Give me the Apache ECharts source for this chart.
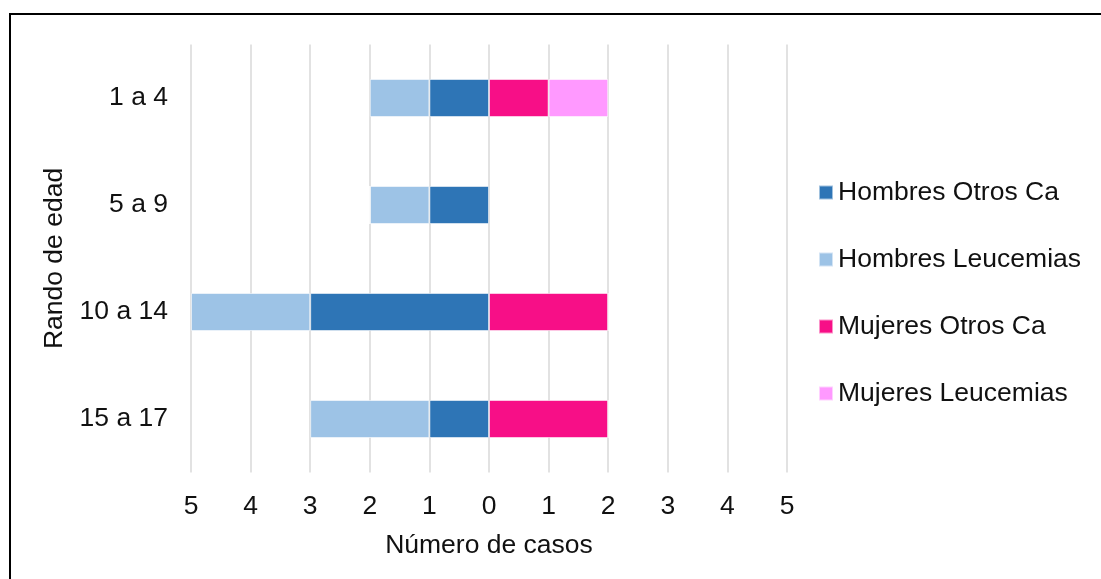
<!DOCTYPE html>
<html>
<head>
<meta charset="utf-8">
<script src="https://cdn.jsdelivr.net/npm/echarts@6/dist/echarts.min.js"></script>
<style>
  html, body { margin: 0; padding: 0; background: #fff; }
  #chart { width: 1101px; height: 579px; position: relative; }
  #frame { position: absolute; left: 9px; top: 13px; width: 1300px; height: 800px; border: 2px solid #000; pointer-events: none; z-index: 5; }
  #wrap { position: relative; width: 1101px; height: 579px; overflow: hidden; }
</style>
</head>
<body>
<div id="wrap">
  <div id="chart"></div>
  <div id="frame"></div>
</div>
<script>
// Age groups (top to bottom)
const categories = ['1 a 4', '5 a 9', '10 a 14', '15 a 17'];
// Cases per group; men are plotted to the left of zero
const hombresOtrosCa = [1, 1, 3, 1];
const hombresLeucemias = [1, 1, 2, 2];
const mujeresOtrosCa = [1, 0, 2, 2];
const mujeresLeucemias = [1, 0, 0, 0];
// Tick values along the count axis
const ticks = [-5, -4, -3, -2, -1, 0, 1, 2, 3, 4, 5];

const font = '"Liberation Sans", Arial, sans-serif';
const txt = '#111';
const fs = 26.5;

const neg = arr => arr.map(v => -v);
const barStyle = color => ({ color: color, borderColor: 'rgba(255,255,255,0.55)', borderWidth: 1 });

const chart = echarts.init(document.getElementById('chart'));
chart.setOption({
  animation: false,
  backgroundColor: '#fff',
  textStyle: { fontFamily: font },
  grid: { left: 191, right: 314, top: 44.5, bottom: 106.5, containLabel: false },
  legend: {
    orient: 'vertical',
    left: 818,
    top: 179,
    padding: 0,
    itemWidth: 14,
    itemHeight: 14,
    itemGap: 40,
    itemTextGap: 7,
    icon: 'rect',
    textStyle: { fontFamily: font, fontSize: fs, color: txt, lineHeight: 26 },
    data: ['Hombres Otros Ca', 'Hombres Leucemias', 'Mujeres Otros Ca', 'Mujeres Leucemias']
  },
  xAxis: {
    type: 'value',
    min: ticks[0],
    max: ticks[ticks.length - 1],
    interval: 1,
    name: 'Número de casos',
    nameLocation: 'middle',
    nameGap: 60,
    nameTextStyle: { fontFamily: font, fontSize: fs, color: txt },
    axisLine: { show: false },
    axisTick: { show: false },
    axisLabel: {
      margin: 21,
      fontFamily: font,
      fontSize: fs,
      color: txt,
      formatter: v => String(Math.abs(v))
    },
    splitLine: { show: true, lineStyle: { color: '#d9d9d9', width: 1.5 } }
  },
  yAxis: {
    type: 'category',
    inverse: true,
    data: categories,
    name: 'Rando de edad',
    nameLocation: 'middle',
    nameRotate: 90,
    nameGap: 116,
    nameTextStyle: { fontFamily: font, fontSize: fs, color: txt },
    axisLine: { show: false },
    axisTick: { show: false },
    axisLabel: { margin: 23, fontFamily: font, fontSize: fs, color: txt },
    splitLine: { show: false }
  },
  series: [
    { name: 'Hombres Otros Ca', type: 'bar', stack: 'casos', barWidth: 38, data: neg(hombresOtrosCa), itemStyle: barStyle('#2E75B6') },
    { name: 'Hombres Leucemias', type: 'bar', stack: 'casos', barWidth: 38, data: neg(hombresLeucemias), itemStyle: barStyle('#9DC3E6') },
    { name: 'Mujeres Otros Ca', type: 'bar', stack: 'casos', barWidth: 38, data: mujeresOtrosCa, itemStyle: barStyle('#F70F87') },
    { name: 'Mujeres Leucemias', type: 'bar', stack: 'casos', barWidth: 38, data: mujeresLeucemias, itemStyle: barStyle('#FF99FF') }
  ]
});
</script>
</body>
</html>
